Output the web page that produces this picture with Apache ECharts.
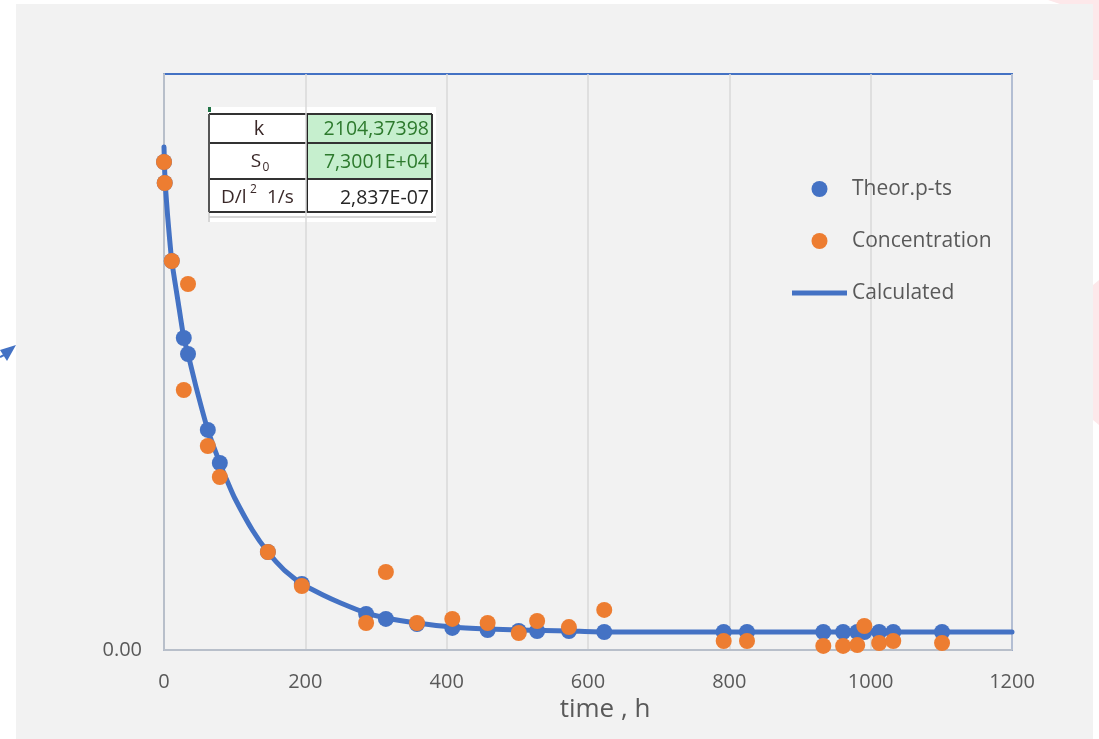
<!DOCTYPE html>
<html>
<head>
<meta charset="utf-8">
<script src="https://cdn.jsdelivr.net/npm/echarts@6/dist/echarts.min.js"></script>
<style>
html,body{margin:0;padding:0;background:#ffffff;}
#bg{position:absolute;left:16px;top:4px;width:1077px;height:735px;background:#f2f2f2;}
#chart{position:absolute;left:0;top:0;width:1099px;height:739px;}
</style>
</head>
<body>
<div id="bg"></div>
<div id="chart"></div>
<script>
// ---- data ----
const times = [0,1,11,28,34,62,79,147,195,286,314,358,408,458,502,528,573,623,792,825,933,961,981,991,1012,1032,1101];
const theorVals = [67780,64860,54030,43330,41110,30560,25970,13610,9170,5000,4310,3610,3060,2780,2640,2640,2640,2500,2500,2500,2500,2500,2500,2500,2500,2500,2500];
const concVals = [67780,64860,54030,36110,50830,28330,24030,13610,8890,3750,10830,3750,4310,3750,2360,4030,3190,5560,1250,1250,560,560,690,3330,970,1250,970];
const calcTimes = [0,1,2,5,11,20,28,34,45,62,79,90,100,125,147,170,195,225,250,286,314,358,408,458,502,573,623,700,800,900,1000,1100,1200];
const calcVals = [69860,66390,64440,60420,54030,48330,43330,41110,36670,30560,25970,23330,21110,16670,13610,11110,9170,7640,6530,5140,4440,3750,3190,2920,2780,2640,2500,2500,2500,2500,2500,2500,2500];
const xTicks = [0,200,400,600,800,1000,1200];
const tableRows = [
  {label:'k', value:'2104,37398'},
  {label:'S0', value:'7,3001E+04'},
  {label:'D/l2 1/s', value:'2,837E-07'}
];

const zip = (a,b) => a.map((v,i)=>[v,b[i]]);
const blue = '#4472c4', orange = '#ed7d31';
const font = '"Open Sans", sans-serif';

const chart = echarts.init(document.getElementById('chart'), null, {renderer:'canvas'});

const tx = 208, ty = 107;
const lab = '#3a2828';
const tableGraphic = {
  type:'group', z:100,
  children:[
    {type:'rect', shape:{x:tx, y:ty, width:228, height:115}, style:{fill:'#ffffff'}},
    {type:'rect', shape:{x:307, y:114, width:125, height:65}, style:{fill:'#c6efce'}},
    {type:'rect', shape:{x:tx, y:ty, width:3, height:5}, style:{fill:'#217346'}},
    {type:'line', shape:{x1:209, y1:217, x2:436, y2:217}, style:{stroke:'#c8c8c8', lineWidth:1.5}},
    {type:'line', shape:{x1:209, y1:212, x2:209, y2:222}, style:{stroke:'#c8c8c8', lineWidth:1.5}},
    {type:'line', shape:{x1:209, y1:114, x2:432, y2:114}, style:{stroke:'#333', lineWidth:2}},
    {type:'line', shape:{x1:209, y1:143, x2:432, y2:143}, style:{stroke:'#333', lineWidth:2}},
    {type:'line', shape:{x1:209, y1:179, x2:432, y2:179}, style:{stroke:'#333', lineWidth:2}},
    {type:'line', shape:{x1:209, y1:212, x2:432, y2:212}, style:{stroke:'#333', lineWidth:2}},
    {type:'line', shape:{x1:209, y1:114, x2:209, y2:212}, style:{stroke:'#555', lineWidth:2}},
    {type:'line', shape:{x1:307, y1:114, x2:307, y2:212}, style:{stroke:'#222', lineWidth:2}},
    {type:'line', shape:{x1:432, y1:114, x2:432, y2:212}, style:{stroke:'#333', lineWidth:2}},
    {type:'text', x:259, y:129, style:{text:tableRows[0].label, font:'20px '+font, fill:lab, align:'center', verticalAlign:'middle'}},
    {type:'text', x:256, y:162, style:{text:'S', font:'19px '+font, fill:lab, align:'center', verticalAlign:'middle'}},
    {type:'text', x:266, y:168, style:{text:'0', font:'12px '+font, fill:lab, align:'center', verticalAlign:'middle'}},
    {type:'text', x:221, y:198, style:{text:'D/l', font:'19px '+font, fill:lab, align:'left', verticalAlign:'middle'}},
    {type:'text', x:250, y:190, style:{text:'2', font:'12px '+font, fill:lab, align:'left', verticalAlign:'middle'}},
    {type:'text', x:267, y:198, style:{text:'1/s', font:'19px '+font, fill:lab, align:'left', verticalAlign:'middle'}},
    {type:'text', x:429, y:129, style:{text:tableRows[0].value, font:'19.5px '+font, fill:'#2d7a2d', align:'right', verticalAlign:'middle'}},
    {type:'text', x:429, y:162, style:{text:tableRows[1].value, font:'19.5px '+font, fill:'#2d7a2d', align:'right', verticalAlign:'middle'}},
    {type:'text', x:429, y:198, style:{text:tableRows[2].value, font:'19.5px '+font, fill:'#262626', align:'right', verticalAlign:'middle'}}
  ]
};

const option = {
  backgroundColor:'transparent',
  animation:false,
  grid:{left:164, right:87, top:74, bottom:89, show:true, borderColor:blue, borderWidth:2, backgroundColor:'transparent'},
  xAxis:{
    type:'value', min:0, max:1200, interval:200,
    axisLine:{show:true, onZero:false, lineStyle:{color:'#b8bfca', width:2}},
    axisTick:{show:false},
    splitLine:{show:true, lineStyle:{color:'#d9d9d9', width:1.5}},
    axisLabel:{color:'#595959', fontSize:20, fontFamily:font, margin:22,
      formatter:v => xTicks.includes(v) ? String(v) : ''},
    name:'time , h', nameLocation:'middle', nameGap:45,
    nameTextStyle:{color:'#595959', fontSize:26, fontFamily:font, padding:[0,0,0,34]}
  },
  yAxis:{
    type:'value', min:0, max:80000, interval:80000,
    axisLine:{show:true, onZero:false, lineStyle:{color:'#b8bfca', width:2}},
    axisTick:{show:false},
    splitLine:{show:false},
    axisLabel:{color:'#595959', fontSize:20, fontFamily:font, margin:22,
      formatter:v => v === 0 ? '0.00' : ''}
  },
  legend:{
    orient:'vertical', left:792, top:178, padding:0, itemWidth:55, itemHeight:16, itemGap:30,
    textStyle:{color:'#595959', fontSize:21, fontFamily:font, lineHeight:22},
    data:[
      {name:'Theor.p-ts', icon:'circle', itemStyle:{color:blue, opacity:1}},
      {name:'Concentration', icon:'circle', itemStyle:{color:orange, opacity:1}},
      {name:'Calculated', icon:'path://M0,0 H110 V10 H0 Z', itemStyle:{color:blue, opacity:1}}
    ]
  },
  graphic:[
    tableGraphic,
    {type:'polygon', shape:{points:[[16,345],[0,350],[7,361]]}, style:{fill:blue}},
    {type:'line', shape:{x1:0, y1:357, x2:6, y2:354}, style:{stroke:blue, lineWidth:2}},
    {type:'polygon', shape:{points:[[1048,0],[1099,0],[1099,80],[1093,80],[1093,4],[1060,4]]}, style:{fill:'#fde8ea'}},
    {type:'polygon', shape:{points:[[1093,285],[1099,280],[1099,425],[1093,420]]}, style:{fill:'#fde8ea'}}
  ],
  series:[
    {name:'Calculated', type:'line', data:zip(calcTimes, calcVals), smooth:0.15,
     symbol:'none', lineStyle:{color:blue, width:5, join:'round', cap:'round'}, itemStyle:{color:blue}, z:1},
    {name:'Theor.p-ts', type:'scatter', data:zip(times, theorVals), symbol:'circle', symbolSize:16,
     itemStyle:{color:blue, opacity:1}, z:3},
    {name:'Concentration', type:'scatter', data:zip(times, concVals), symbol:'circle', symbolSize:16,
     itemStyle:{color:orange, opacity:1}, z:4}
  ]
};
chart.setOption(option);
</script>
</body>
</html>
